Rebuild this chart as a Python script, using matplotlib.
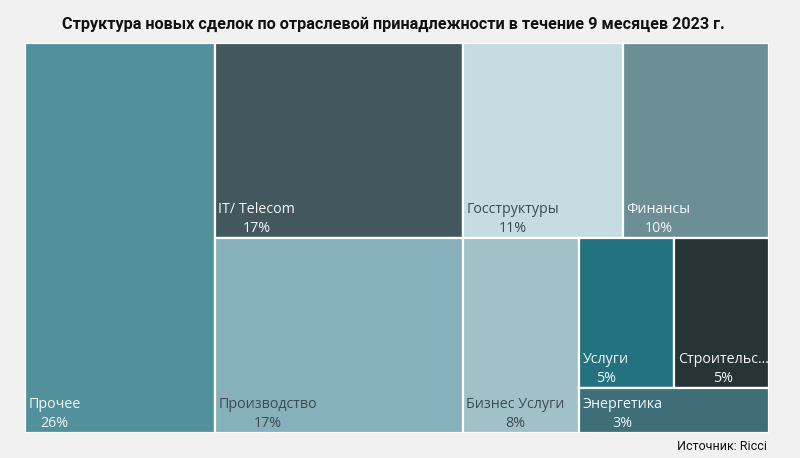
import matplotlib
matplotlib.use("Agg")
import matplotlib.pyplot as plt
from matplotlib.patches import Rectangle
from matplotlib.colors import to_rgb

plt.rcParams['font.family'] = ['Open Sans', 'Noto Sans', 'DejaVu Sans']

# данные: отрасли и доли (%)
categories = ["Прочее", "IT/ Telecom", "Производство", "Госструктуры", "Финансы",
              "Бизнес Услуги", "Услуги", "Строительс...", "Энергетика"]
shares = [26, 17, 17, 11, 10, 8, 5, 5, 3]
colors = ["#52919b", "#42585c", "#86b0bb", "#c5dce0", "#6c8e95",
          "#a1c1c8", "#237280", "#263438", "#3e6e78"]

TITLE = "Структура новых сделок по отраслевой принадлежности в течение 9 месяцев 2023 г."
SOURCE = "Источник: Ricci"
BG = "#f1f1f1"
# соотношение сторон, с которым считается раскладка (как в исходном визуале)
LAYOUT_ASPECT = 1.95


def worst(row, side):
    s = sum(row)
    return max(max(side * side * r / (s * s), (s * s) / (side * side * r)) for r in row)


def squarify(values, x, y, w, h):
    """ squarified treemap: возвращает (x, y, w, h) для каждого значения """
    total = sum(values)
    areas = [v * w * h / total for v in values]
    rects = []
    i = 0
    while i < len(areas):
        side = min(w, h)
        row = [areas[i]]
        j = i + 1
        while j < len(areas) and worst(row + [areas[j]], side) <= worst(row, side):
            row.append(areas[j])
            j += 1
        s = sum(row)
        if w >= h:
            cw = s / h
            cy = y
            for a in row:
                rects.append((x, cy, cw, a / cw))
                cy += a / cw
            x += cw
            w -= cw
        else:
            rh = s / w
            cx = x
            for a in row:
                rects.append((cx, y, a / rh, rh))
                cx += a / rh
            y += rh
            h -= rh
        i = j
    return rects


W_PX, H_PX = 800, 458
fig = plt.figure(figsize=(W_PX / 100, H_PX / 100), dpi=100, facecolor=BG)

# область treemap в пикселях
left, top, width, height = 25, 43, 744, 390
ax = fig.add_axes([left / W_PX, 1 - (top + height) / H_PX, width / W_PX, height / H_PX])
ax.set_xlim(0, LAYOUT_ASPECT)
ax.set_ylim(1, 0)
ax.axis("off")

# пиксель в единицах осей
px_x = LAYOUT_ASPECT / width
px_y = 1 / height

rects = squarify(shares, 0, 0, LAYOUT_ASPECT, 1)
for (rx, ry, rw, rh), name, val, col in zip(rects, categories, shares, colors):
    ax.add_patch(Rectangle((rx, ry), rw, rh, facecolor=col, edgecolor="white", linewidth=1.6))
    r, g, b = to_rgb(col)
    lum = 0.299 * r + 0.587 * g + 0.114 * b
    txt_color = "#3e4c50" if lum > 0.6 else "#f4f7f8"
    ax.text(rx + 3.5 * px_x, ry + rh - 2 * px_y, f"{name}\n{val}%", ha="left", va="bottom",
            multialignment="center", fontsize=10.3, color=txt_color, linespacing=1.35)

fig.text(0.492, 1 - 24 / H_PX, TITLE, ha="center", va="center", fontsize=11.7,
         fontweight="bold", color="#111111", family=['Roboto', 'Noto Sans', 'DejaVu Sans'])
fig.text(767 / W_PX, 1 - 447 / H_PX, SOURCE, ha="right", va="center", fontsize=9,
         color="#111111", family=['Roboto', 'Noto Sans', 'DejaVu Sans'])

fig.savefig("out.png", dpi=100, facecolor=BG)
